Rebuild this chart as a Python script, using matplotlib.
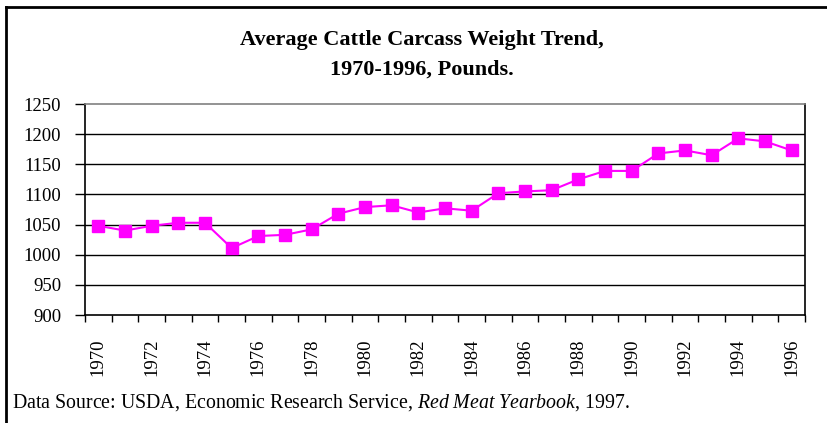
import numpy as np
import matplotlib
matplotlib.use("Agg")
import matplotlib.pyplot as plt
from matplotlib.lines import Line2D

years = list(range(1970, 1997))
weights = [1048, 1040, 1048, 1053, 1053, 1011, 1031, 1033, 1042, 1068,
           1079, 1082, 1070, 1077, 1073, 1102, 1105, 1107, 1125, 1139,
           1139, 1168, 1173, 1165, 1193, 1188, 1173]
yticks = [900, 950, 1000, 1050, 1100, 1150, 1200, 1250]

plt.rcParams['font.family'] = ['Liberation Serif', 'DejaVu Serif']
plt.rcParams['mathtext.fontset'] = 'custom'
plt.rcParams['mathtext.rm'] = 'Liberation Serif'
plt.rcParams['mathtext.it'] = 'Liberation Serif:italic'

fig = plt.figure(figsize=(8.27, 4.23), dpi=100)
W, H = 827, 423
ax = fig.add_axes([85 / W, 1 - 315 / H, 720 / W, 211 / H])

x = np.arange(len(years))
ax.plot(x, weights, color='#FF00FF', lw=1.5, marker='s', ms=8.8,
        mec='#FF00FF', mfc='#FF00FF', zorder=3)

ax.set_xlim(-0.5, len(years) - 0.5)
ax.set_ylim(900, 1250)
ax.set_yticks(yticks)
ax.set_yticklabels([str(v) for v in yticks], fontsize=13.5)
for v in yticks[1:-1]:
    ax.axhline(v, color='black', lw=1, zorder=1)

# tick marks between categories, labels every other year at centres
ax.set_xticks(np.arange(-0.5, len(years), 1))
ax.set_xticklabels([])
ax.tick_params(axis='x', direction='out', length=5, width=1)
ax.set_xticks(x[::2], minor=True)
ax.set_xticklabels([str(y) for y in years[::2]], minor=True,
                   rotation=90, fontsize=13.5)
ax.tick_params(axis='x', which='minor', length=0, pad=17)
ax.tick_params(axis='y', direction='out', length=7, width=1, pad=10)

for s in ['left', 'bottom', 'right']:
    ax.spines[s].set_color('black')
    ax.spines[s].set_linewidth(1.2)
ax.spines['top'].set_color('#808080')
ax.spines['top'].set_linewidth(1.2)

fig.text(422 / W, 1 - 40 / H, 'Average Cattle Carcass Weight Trend,',
         ha='center', va='center', fontsize=16, fontweight='bold')
fig.text(422 / W, 1 - 70 / H, '1970-1996, Pounds.',
         ha='center', va='center', fontsize=16, fontweight='bold')

fig.text(12 / W, 1 - 403 / H,
         r'Data Source: USDA, Economic Research Service, $\mathit{Red\ Meat\ Yearbook}$, 1997.',
         ha='left', va='center', fontsize=14.3)

# frame lines on left and top of the figure
fig.add_artist(Line2D([6 / W, 6 / W], [0, 1 - 7 / H], transform=fig.transFigure,
                      color='black', lw=2))
fig.add_artist(Line2D([6 / W, 1], [1 - 7 / H, 1 - 7 / H], transform=fig.transFigure,
                      color='black', lw=2))

fig.savefig('out.png', dpi=100)
